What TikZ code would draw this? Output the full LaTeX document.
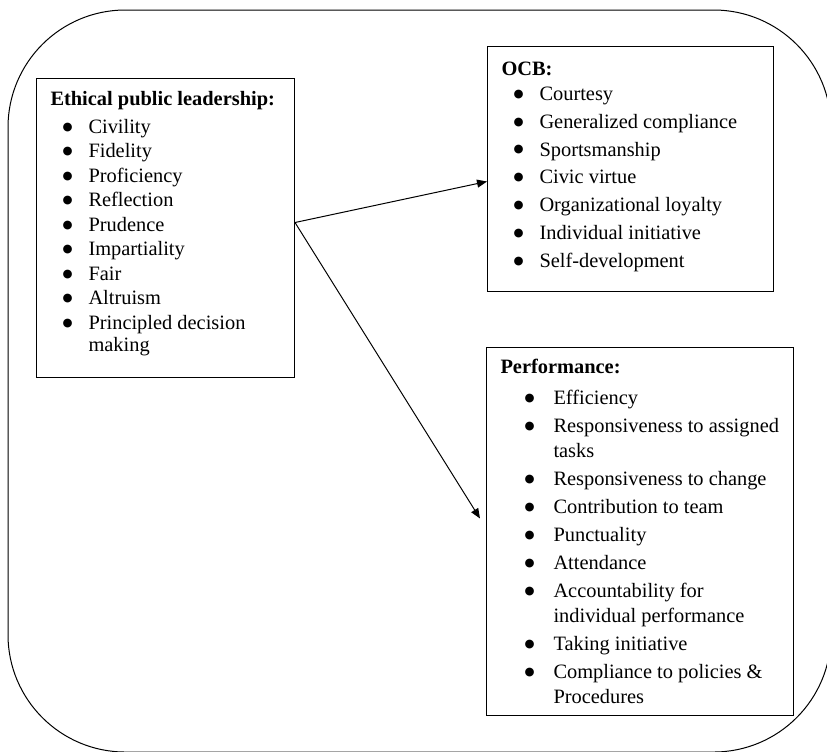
\documentclass[tikz,border=0pt]{standalone}
\usepackage{fontspec}
\setmainfont{Liberation Serif}
\newfontfamily\dejavu{DejaVu Sans}
\usetikzlibrary{arrows.meta,calc}
\newdimen\px \px=0.75pt
\newcommand{\bul}{\raisebox{2.4pt}{\fontsize{8.6}{8.6}\dejavu ●}}
\newcommand{\itm}[3]{\par\hangindent=#2\px\hangafter=1\hspace*{#1\px}\makebox[\dimexpr#2\px-#1\px\relax][l]{\bul}#3}
\newcommand{\hd}[3]{\rule{0pt}{#1\px}\hspace*{14\px}\textbf{#2}\par\vspace{#3\px}}
\begin{document}
\begin{tikzpicture}[x=0.75pt,y=-0.75pt,line width=0.75pt,
    box/.style={draw, inner sep=0pt, anchor=north west},
    link/.style={-{Triangle[length=7.5pt,width=6pt]}}]
    \useasboundingbox (0,0) rectangle (827,751);
    \clip (0,0) rectangle (827,751);
    \draw[rounded corners=88pt] (8,10) rectangle (831,752);
    \node[box] (lead) at (36,78) {\begin{minipage}[t][299\px][t]{258\px}\raggedright
        \fontsize{15.3}{22\px}\selectfont\parskip=2.5\px
        \hd{27}{Ethical public leadership:}{3.2}
        \itm{26}{52}{Civility}
        \itm{26}{52}{Fidelity}
        \itm{26}{52}{Proficiency}
        \itm{26}{52}{Reflection}
        \itm{26}{52}{Prudence}
        \itm{26}{52}{Impartiality}
        \itm{26}{52}{Fair}
        \itm{26}{52}{Altruism}
        \itm{26}{52}{Principled decision\newline making}\par
    \end{minipage}};
    \node[box] (ocb) at (487,46) {\begin{minipage}[t][245\px][t]{286\px}\raggedright
        \fontsize{15.3}{25\px}\selectfont\parskip=2.8\px
        \hd{29}{OCB:}{-2.8}
        \itm{26}{52}{Courtesy}
        \itm{26}{52}{Generalized compliance}
        \itm{26}{52}{Sportsmanship}
        \itm{26}{52}{Civic virtue}
        \itm{26}{52}{Organizational loyalty}
        \itm{26}{52}{Individual initiative}
        \itm{26}{52}{Self-development}\par
    \end{minipage}};
    \node[box] (perf) at (486,347) {\begin{minipage}[t][368\px][t]{307\px}\raggedright
        \fontsize{15.3}{25\px}\selectfont\parskip=3\px
        \hd{25.7}{Performance:}{3.6}
        \itm{38}{67}{Efficiency}
        \itm{38}{67}{Responsiveness to assigned\newline tasks}
        \itm{38}{67}{Responsiveness to change}
        \itm{38}{67}{Contribution to team}
        \itm{38}{67}{Punctuality}
        \itm{38}{67}{Attendance}
        \itm{38}{67}{Accountability for\newline individual performance}
        \itm{38}{67}{Taking initiative}
        \itm{38}{67}{Compliance to policies \&\newline Procedures}\par
    \end{minipage}};
    \coordinate (fork) at ($(lead.east)+(0,-5.5)$);
    \draw[link] (fork) -- ($(ocb.west)+(0,12.5)$);
    \draw[link] (fork) -- ($(perf.west)+(-6,-13)$);
\end{tikzpicture}
\end{document}
